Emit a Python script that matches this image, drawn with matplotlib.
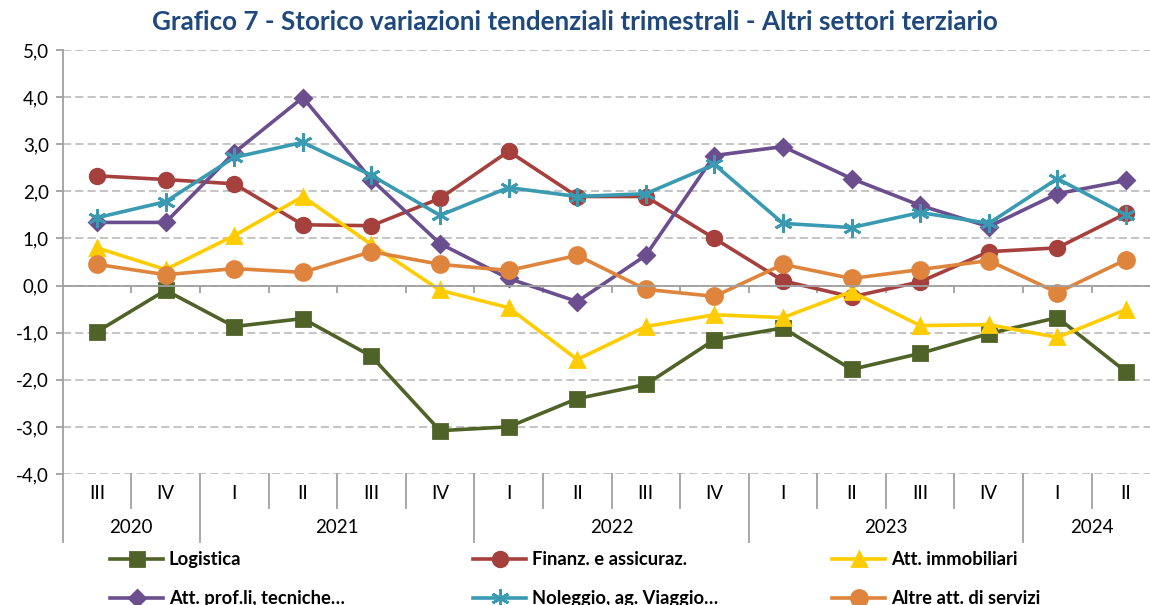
import matplotlib.pyplot as plt
import matplotlib.transforms as mtransforms
from matplotlib.ticker import FuncFormatter, MultipleLocator

plt.rcParams['font.family'] = ['Lato', 'DejaVu Sans']

quarters = ['III', 'IV', 'I', 'II', 'III', 'IV', 'I', 'II', 'III', 'IV', 'I', 'II', 'III', 'IV', 'I', 'II']
years = ['2020', '2021', '2022', '2023', '2024']
year_sizes = [2, 4, 4, 4, 2]

logistica = [-0.98, -0.10, -0.87, -0.70, -1.50, -3.08, -3.00, -2.40, -2.10, -1.15, -0.90, -1.78, -1.44, -1.02, -0.68, -1.83]
finanz = [2.33, 2.25, 2.16, 1.29, 1.27, 1.85, 2.85, 1.89, 1.89, 1.00, 0.10, -0.24, 0.08, 0.72, 0.80, 1.53]
immobiliari = [0.80, 0.34, 1.06, 1.89, 0.87, -0.10, -0.47, -1.57, -0.87, -0.62, -0.68, -0.13, -0.85, -0.83, -1.10, -0.51]
prof = [1.34, 1.34, 2.82, 3.99, 2.25, 0.89, 0.15, -0.34, 0.64, 2.76, 2.95, 2.27, 1.70, 1.25, 1.95, 2.23]
noleggio = [1.44, 1.78, 2.72, 3.04, 2.34, 1.49, 2.08, 1.89, 1.95, 2.57, 1.32, 1.23, 1.55, 1.32, 2.27, 1.50]
altre = [0.45, 0.23, 0.36, 0.28, 0.72, 0.45, 0.32, 0.64, -0.08, -0.23, 0.45, 0.15, 0.34, 0.53, -0.15, 0.55]

series = [
    ('Logistica', logistica, '#4F6228', 's', 9.5),
    ('Finanz. e assicuraz.', finanz, '#A5403D', 'o', 10.5),
    ('Att. immobiliari', immobiliari, '#FFCC00', '^', 10.5),
    ('Att. prof.li, tecniche…', prof, '#6B4E8E', 'D', 8),
    ('Noleggio, ag. Viaggio…', noleggio, '#3A9AB2', (6, 2, 0), 13),
    ('Altre att. di servizi', altre, '#DE843C', 'o', 11.5),
]

axis_col = '#A0A0A0'
grid_col = '#BFBFBF'

fig = plt.figure(figsize=(11.5, 6.05), dpi=100)
ax = fig.add_axes([62.7 / 1150, 1 - 474 / 605, 16 * 68.6 / 1150, 424 / 605])

x = list(range(len(quarters)))
handles = []
for label, vals, color, marker, ms in series:
    h, = ax.plot(x, vals, color=color, lw=2.6, marker=marker, ms=ms,
                 mfc=color, mec=color, mew=2.0, label=label, clip_on=False)
    handles.append(h)

ax.set_xlim(-0.5, len(quarters) - 0.5)
ax.set_ylim(-4, 5)
ax.yaxis.set_major_locator(MultipleLocator(1))
ax.yaxis.set_major_formatter(FuncFormatter(lambda v, p: f'{v:.1f}'.replace('.', ',')))
ax.grid(axis='y', color=grid_col, ls=(0, (4.5, 2.3)), lw=1.3, zorder=0)
ax.set_axisbelow(True)

for s in ['top', 'right']:
    ax.spines[s].set_visible(False)
ax.spines['left'].set_color(axis_col)
ax.spines['left'].set_linewidth(1.3)
ax.spines['bottom'].set_position(('data', 0))
ax.spines['bottom'].set_color(axis_col)
ax.spines['bottom'].set_linewidth(1.3)

ax.set_xticks([i + 0.5 for i in x[:-1]])
ax.set_xticklabels([])
ax.tick_params(axis='x', direction='out', length=5, width=1.3, color=axis_col)
ax.tick_params(axis='y', direction='out', length=5, width=1.3, color=axis_col,
               labelsize=13.5, pad=5)

# category axis below the plot
trans = mtransforms.blended_transform_factory(ax.transData, ax.transAxes)
for i, q in enumerate(quarters):
    ax.text(i, -0.047, q, transform=trans, ha='center', va='center', fontsize=13.5)

year_edges = [-0.5]
for n in year_sizes:
    year_edges.append(year_edges[-1] + n)
for i in x[:-1]:
    b = i + 0.5
    if b not in year_edges:
        ax.plot([b, b], [0, -0.080], transform=trans, color=axis_col, lw=1.3, clip_on=False)
for b in year_edges:
    ax.plot([b, b], [0, -0.160], transform=trans, color=axis_col, lw=1.3, clip_on=False)
for k, yr in enumerate(years):
    c = (year_edges[k] + year_edges[k + 1]) / 2
    ax.text(c, -0.127, yr, transform=trans, ha='center', va='center', fontsize=13.5)

fig.text(0.5, 1 - 22 / 605, 'Grafico 7 - Storico variazioni tendenziali trimestrali - Altri settori terziario',
         ha='center', va='center', fontsize=18.7, fontweight='bold', color='#1F497D')

# legend in three columns
col_x = [110, 473, 832]
order = [[0, 3], [1, 4], [2, 5]]
for cx, idx in zip(col_x, order):
    leg = fig.legend([handles[i] for i in idx], [handles[i].get_label() for i in idx],
                     loc='upper left', bbox_to_anchor=(cx / 1150, 1 - 551 / 605),
                     frameon=False, borderpad=0, borderaxespad=0, handlelength=2.9,
                     handletextpad=0.3, labelspacing=1.2,
                     prop={'weight': 'bold', 'size': 13.2})

fig.savefig('out.png', dpi=100)
